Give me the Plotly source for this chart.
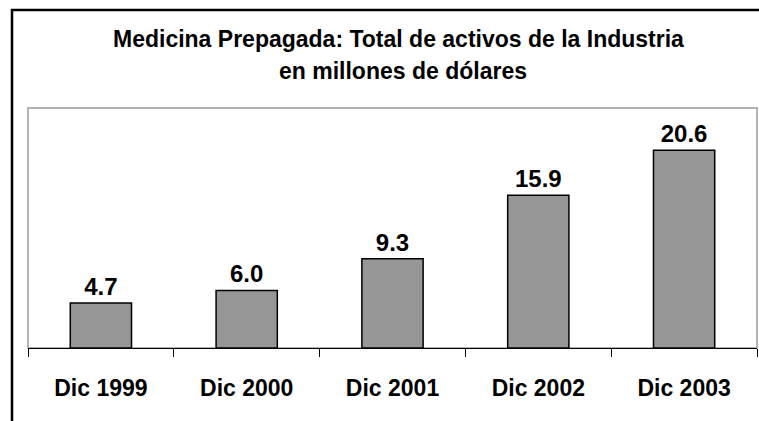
import plotly.graph_objects as go

categories = ["Dic 1999", "Dic 2000", "Dic 2001", "Dic 2002", "Dic 2003"]
values = [4.7, 6.0, 9.3, 15.9, 20.6]
title_line1 = "Medicina Prepagada: Total de activos de la Industria"
title_line2 = "en millones de dólares"

FONT = "Arial, 'Liberation Sans', sans-serif"

fig = go.Figure()
fig.add_trace(go.Bar(
    x=categories, y=values,
    width=0.42,
    marker=dict(color="#969696", line=dict(color="black", width=1.5)),
    texttemplate="%{y:.1f}", textposition="outside",
    textfont=dict(family=FONT, size=24, color="black", weight="bold"),
    cliponaxis=False,
))

W, H = 759, 421
L, R, T, B = 28, 2, 108, 73
pw = W - L - R
ph = H - T - B

def px_x(x):
    return (x - L) / pw

def px_y(y):
    return (H - B - y) / ph

fig.update_layout(
    width=W, height=H,
    margin=dict(l=L, r=R, t=T, b=B, autoexpand=False),
    paper_bgcolor="white", plot_bgcolor="white",
    showlegend=False,
    xaxis=dict(
        type="category", tickson="boundaries", automargin=False,
        showline=True, linecolor="black", linewidth=1,
        ticks="outside", ticklen=8, tickcolor="black", tickwidth=1,
        showgrid=False, zeroline=False,
        tickfont=dict(family=FONT, size=23, color="black", weight="bold"),
        ticklabelstandoff=19,
    ),
    yaxis=dict(range=[0, 25], visible=False, showgrid=False, zeroline=False, automargin=False),
    shapes=[
        dict(type="rect", xref="paper", yref="paper", x0=0, x1=1, y0=0, y1=1,
             line=dict(color="#9a9a9a", width=1.5), layer="below"),
        dict(type="rect", xref="paper", yref="paper",
             x0=px_x(12), x1=px_x(800), y0=px_y(460), y1=px_y(10),
             line=dict(color="black", width=2.5), fillcolor="rgba(0,0,0,0)"),
    ],
    annotations=[
        dict(text=title_line1, xref="paper", yref="paper", x=px_x(398), y=px_y(53.6),
             xanchor="center", yanchor="bottom", showarrow=False,
             font=dict(family=FONT, size=23, color="black", weight="bold")),
        dict(text=title_line2, xref="paper", yref="paper", x=px_x(403), y=px_y(85.9),
             xanchor="center", yanchor="bottom", showarrow=False,
             font=dict(family=FONT, size=23, color="black", weight="bold")),
    ],
)

fig.write_html(
    "out.html",
    config={"displayModeBar": False},
    post_script="document.body.style.margin='0';document.body.style.overflow='hidden';",
)
